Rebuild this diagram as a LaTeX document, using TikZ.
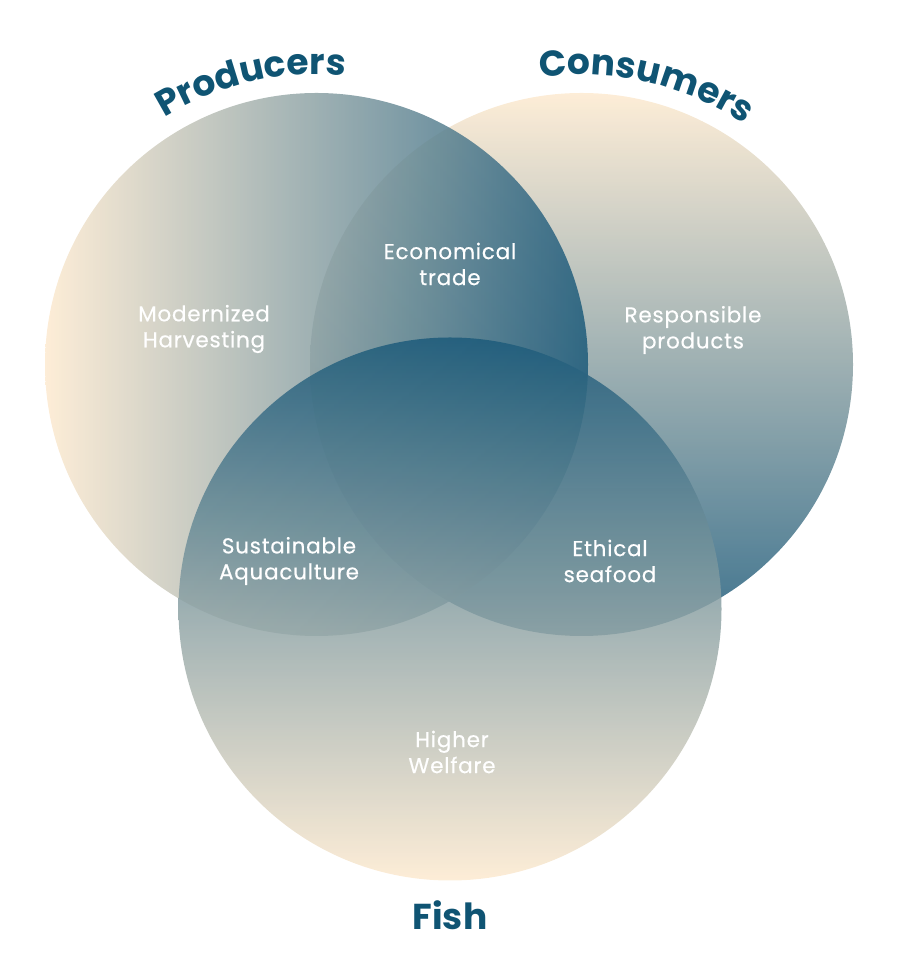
\documentclass[tikz,border=0pt]{standalone}
\usepackage{fontspec}
\setmainfont{Poppins}
\usetikzlibrary{decorations.text}
\definecolor{cream}{HTML}{FDEAD0}
\definecolor{deepsea}{HTML}{1C5A7A}
\definecolor{heading}{HTML}{0F5473}
\tikzset{
  ring/.style={circle, minimum size=543pt, inner sep=0pt, fill opacity=0.85},
  label/.style={text=white, align=center,
    font=\fontsize{21.5}{26}\selectfont\addfontfeatures{LetterSpace=3.5,FakeBold=0.4}},
  title/.style={text=heading, font=\bfseries\fontsize{36}{40}\selectfont}
}
\begin{document}
\begin{tikzpicture}[x=1pt, y=1pt]
  \useasboundingbox (0,0) rectangle (898,977);
  % the three circles
  \node (cons) [ring, top color=cream, bottom color=deepsea] at (581.5,612.5) {};
  \node (prod) [ring, left color=cream, right color=deepsea] at (316.5,612.5) {};
  \node (fish) [ring, top color=deepsea, bottom color=cream] at (450,368) {};

  % curved titles
  \path [decorate, decoration={text along path, text align=center,
      text={|\bfseries\fontsize{36}{40}\selectfont\color{heading}|Producers}}]
    (prod.center) ++(130:290pt) arc[start angle=130, end angle=76, radius=290pt];
  \path [decorate, decoration={text along path, text align=center,
      text={|\bfseries\fontsize{36}{40}\selectfont\color{heading}|Consumers}}]
    (cons.center) ++(104:290pt) arc[start angle=104, end angle=50, radius=290pt];
  \node (fishtitle) [title] at (450,62) {Fish};

  % region labels
  \node (harvest) [label] at (204,648) {Modernized\\Harvesting};
  \node (trade)   [label] at (450,713) {Economical\\trade};
  \node (respons) [label] at (693,647) {Responsible\\products};
  \node (aqua)    [label] at (289,416) {Sustainable\\Aquaculture};
  \node (ethical) [label] at (610,416) {Ethical\\seafood};
  \node (welfare) [label] at (452,225) {Higher\\Welfare};
\end{tikzpicture}
\end{document}
